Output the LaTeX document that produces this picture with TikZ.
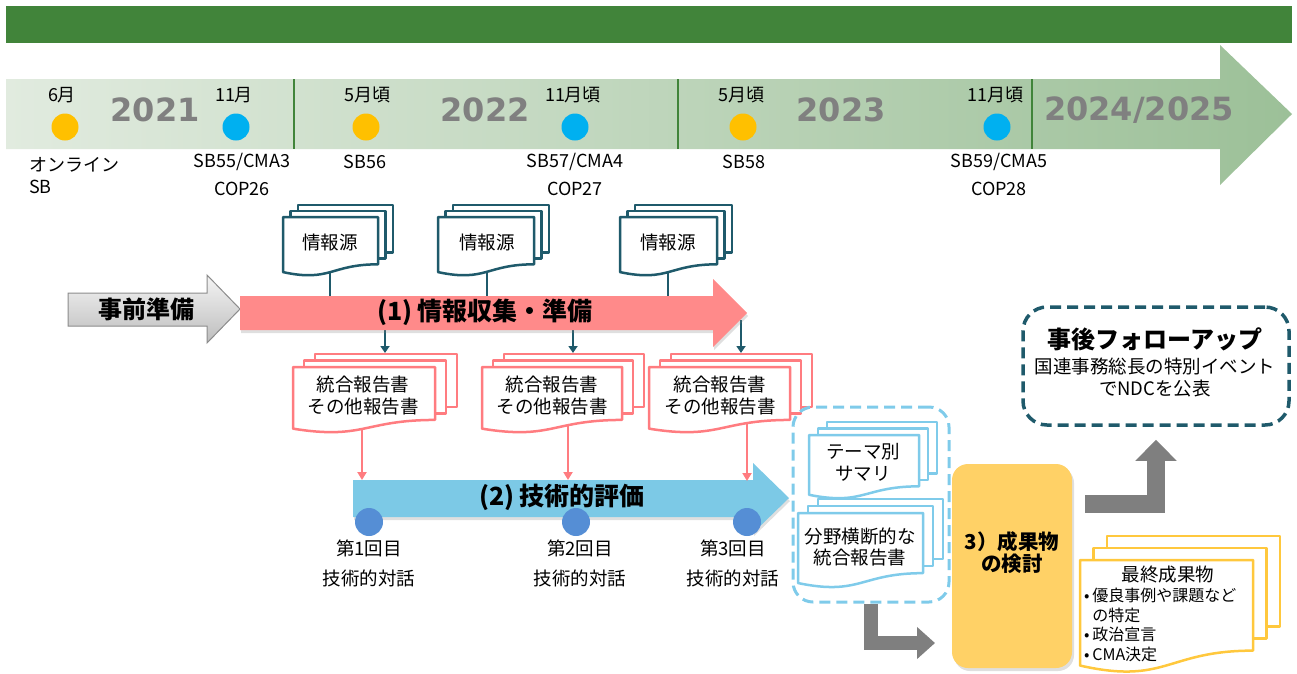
\documentclass[tikz,border=0pt]{standalone}
\usepackage{fontspec}
\setmainfont{Noto Sans CJK JP}
\newfontfamily\yearfont{DejaVu Sans}
\usetikzlibrary{arrows.meta,shadows}
\definecolor{barGreen}{HTML}{41843A}
\definecolor{tlLeft}{HTML}{E1EBDF}
\definecolor{tlRight}{HTML}{9CC098}
\definecolor{yearGray}{HTML}{808080}
\definecolor{dotYellow}{HTML}{FFC000}
\definecolor{dotBlue}{HTML}{00B0F0}
\definecolor{tealD}{HTML}{1F5A6B}
\definecolor{pinkArrow}{HTML}{FF8A8A}
\definecolor{pinkDoc}{HTML}{FF7C80}
\definecolor{skyArrow}{HTML}{7CC9E6}
\definecolor{skyDoc}{HTML}{7FCBEA}
\definecolor{dotTech}{HTML}{558ED5}
\definecolor{orangeBox}{HTML}{FFD166}
\definecolor{arrGray}{HTML}{7F7F7F}
\definecolor{yelDoc}{HTML}{FFC83D}
\definecolor{prepTop}{HTML}{F4F4F4}
\definecolor{prepBot}{HTML}{BDBDBD}
\definecolor{prepLine}{HTML}{8C8C8C}
\newcommand\setfs[2]{\fontsize{#1}{#2}\selectfont}
% multi-document stack: x, y, w, h, dx, dy, style
\newcommand\mdoc[7]{%
  \pgfmathsetmacro\mdR{#1+#3}%
  \pgfmathsetmacro\mdB{#2+0.802*#4}%
  \pgfmathsetmacro\mdL{#2+0.934*#4}%
  \pgfmathsetmacro\mdC{#2+1.107*#4}%
  \pgfmathsetmacro\mdM{#1+0.5*#3}%
  \pgfmathsetmacro\mdXa{#1+#5}\pgfmathsetmacro\mdXb{#1+2*#5}%
  \pgfmathsetmacro\mdRa{\mdR+#5}\pgfmathsetmacro\mdRb{\mdR+2*#5}%
  \pgfmathsetmacro\mdYa{#2-#6}\pgfmathsetmacro\mdYb{#2-2*#6}%
  \pgfmathsetmacro\mdBa{\mdB-#6}\pgfmathsetmacro\mdBb{\mdB-2*#6}%
  \path[#7] (\mdXb,\mdYb) rectangle (\mdRb,\mdBb);
  \path[#7] (\mdXa,\mdYa) rectangle (\mdRa,\mdBa);
  \path[#7] (#1,#2) -- (\mdR,#2) -- (\mdR,\mdB) .. controls (\mdM,\mdB) and (\mdM,\mdC) .. (#1,\mdL) -- cycle;
}
\begin{document}
\begin{tikzpicture}[x=1pt,y=-1pt,
  tl/.style={font=\setfs{18}{28},inner sep=0pt,align=center},
  doctext/.style={font=\setfs{18.5}{22},inner sep=0pt,align=center},
  titletext/.style={font=\bfseries\setfs{25}{27},inner sep=0pt},
  yeartext/.style={font=\yearfont\bfseries\setfs{32}{36},text=yearGray,inner sep=0pt},
  ydot/.style={circle,fill=dotYellow,minimum size=27pt,inner sep=0pt},
  bdot/.style={circle,fill=dotBlue,minimum size=27pt,inner sep=0pt},
  tdot/.style={circle,fill=dotTech,minimum size=28pt,inner sep=0pt},
  tealdoc/.style={draw=tealD,line width=2.5pt,fill=white,line join=round},
  pinkdoc/.style={draw=pinkDoc,line width=2.5pt,fill=white,line join=round},
  skydoc/.style={draw=skyDoc,line width=2.5pt,fill=white,line join=round},
  yeldoc/.style={draw=yelDoc,line width=2.5pt,fill=white,line join=round},
  tealline/.style={draw=tealD,line width=2pt},
  tealarrow/.style={draw=tealD,line width=2pt,-{Triangle[width=9pt,length=7pt]}},
  pinkconn/.style={draw=pinkDoc,line width=2pt,-{Triangle[width=9pt,length=8pt]}},
  softshadow/.style={drop shadow={opacity=0.25,shadow xshift=1pt,shadow yshift=-3pt}},
  grayarrowA/.style={draw=arrGray,line width=14pt,-{Triangle[width={31pt 0 0},length={18pt 0 0}]}},
  grayarrowB/.style={draw=arrGray,line width=18pt,-{Triangle[width={40pt 0 0},length={21pt 0 0}]}},
]
\useasboundingbox (0,0) rectangle (1297,673);
% ---- header bar
\fill[barGreen] (6,6) rectangle (1292,43);
% ---- timeline arrow
\shade[left color=tlLeft,right color=tlRight] (6,79) -- (1220,79) -- (1220,45) -- (1292,114) -- (1220,185) -- (1220,149) -- (6,149) -- cycle;
\draw[barGreen,line width=1.5pt] (294,79) -- (294,149);
\draw[barGreen,line width=1.5pt] (678,79) -- (678,149);
\draw[barGreen,line width=1.5pt] (1032,79) -- (1032,149);
% years
\node[yeartext] (y1) at (155,110) {2021};
\node[yeartext] (y2) at (485,110) {2022};
\node[yeartext] (y3) at (841,110) {2023};
\node[yeartext] (y4) at (1139,110) {2024/2025};
% months, dots, events
\node[tl] (m1) at (62,95) {6月};
\node[ydot] (c1) at (65,127) {};
\node[tl,anchor=west,align=left,font=\setfs{18}{22}] (e1) at (29,176) {オンライン\\SB};
\node[tl] (m2) at (234,95) {11月};
\node[bdot] (c2) at (236,127) {};
\node[tl] (e2) at (242,174) {SB55/CMA3\\COP26};
\node[tl] (m3) at (367,95) {5月頃};
\node[ydot] (c3) at (366,127) {};
\node[tl] (e3) at (365,162) {SB56};
\node[tl] (m4) at (573,95) {11月頃};
\node[bdot] (c4) at (575,127) {};
\node[tl] (e4) at (575,174) {SB57/CMA4\\COP27};
\node[tl] (m5) at (741,95) {5月頃};
\node[ydot] (c5) at (743,127) {};
\node[tl] (e5) at (744,162) {SB58};
\node[tl] (m6) at (995,95) {11月頃};
\node[bdot] (c6) at (997,127) {};
\node[tl] (e6) at (999,174) {SB59/CMA5\\COP28};
% ---- information sources
\coordinate (s1b) at (330,265); \coordinate (p1a) at (330,300);
\coordinate (s2b) at (487,265); \coordinate (p1b) at (487,300);
\coordinate (s3b) at (668,265); \coordinate (p1c) at (668,300);
\draw[tealline] (s1b) -- (p1a);
\draw[tealline] (s2b) -- (p1b);
\draw[tealline] (s3b) -- (p1c);
\mdoc{283}{217}{95}{59}{7.5}{6}{tealdoc}
\mdoc{438}{217}{96}{59}{7.5}{6}{tealdoc}
\mdoc{620}{217}{97}{59}{7.5}{6}{tealdoc}
\node[doctext] (src1) at (330,242) {情報源};
\node[doctext] (src2) at (487,242) {情報源};
\node[doctext] (src3) at (668,242) {情報源};
% ---- technical assessment arrow (2)
\path[fill=skyArrow,softshadow] (353,480) -- (753,480) -- (753,463) -- (789,498) -- (753,533) -- (753,517) -- (353,517) -- cycle;
\node[titletext] (tech) at (562,497) {(2) 技術的評価};
\coordinate (r1b) at (362,415); \coordinate (t1) at (362,480);
\coordinate (r2b) at (568,415); \coordinate (t2) at (568,480);
\coordinate (r3b) at (747,415); \coordinate (t3) at (747,481);
\draw[pinkconn] (r1b) -- (t1);
\draw[pinkconn] (r2b) -- (t2);
\draw[pinkconn] (r3b) -- (t3);
\node[tdot] (d1) at (369,522) {};
\node[tdot] (d2) at (576,522) {};
\node[tdot] (d3) at (747,522) {};
\node[doctext,font=\setfs{18.5}{30}] (td1) at (369,563) {第1回目\\技術的対話};
\node[doctext,font=\setfs{18.5}{30}] (td2) at (580,563) {第2回目\\技術的対話};
\node[doctext,font=\setfs{18.5}{30}] (td3) at (733,563) {第3回目\\技術的対話};
% ---- reports
\mdoc{293}{367}{142}{66}{11}{6.5}{pinkdoc}
\mdoc{482}{367}{140}{66}{11}{6.5}{pinkdoc}
\mdoc{649}{367}{141}{66}{11}{6.5}{pinkdoc}
\node[doctext] (rep1) at (363,396) {統合報告書\\その他報告書};
\node[doctext] (rep2) at (552,396) {統合報告書\\その他報告書};
\node[doctext] (rep3) at (720,396) {統合報告書\\その他報告書};
\coordinate (q1) at (385,325); \coordinate (q1e) at (385,353);
\coordinate (q2) at (573,325); \coordinate (q2e) at (573,353);
\coordinate (q3) at (741,320); \coordinate (q3e) at (741,353);
\draw[tealarrow] (q1) -- (q1e);
\draw[tealarrow] (q2) -- (q2e);
\draw[tealarrow] (q3) -- (q3e);
% ---- preparation arrows
\shadedraw[top color=prepTop,bottom color=prepBot,draw=prepLine,line width=1pt] (68,293) -- (207,293) -- (207,275) -- (240,309) -- (207,343) -- (207,326) -- (68,326) -- cycle;
\node[titletext,font=\bfseries\setfs{24}{26}] (prep) at (146,309) {事前準備};
\path[fill=pinkArrow,softshadow] (240,296) -- (713,296) -- (713,279) -- (747,313) -- (713,347) -- (713,330) -- (240,330) -- cycle;
\node[titletext] (collect) at (485,312) {(1) 情報収集・準備};
% ---- summaries box
\node[draw=skyDoc,line width=3pt,dash pattern=on 11pt off 6pt,rounded corners=20pt,minimum width=156pt,minimum height=195pt] (bluebox) at (871,504.5) {};
\mdoc{809}{435}{110}{64}{9}{6.5}{skydoc}
\mdoc{798}{513}{125}{75}{10}{7}{skydoc}
\node[doctext] (theme) at (863,462) {テーマ別\\サマリ};
\node[doctext,font=\setfs{18.5}{21}] (cross) at (860,547.5) {分野横断的な\\統合報告書};
% ---- outcome box
\node[fill=orangeBox,rounded corners=16pt,minimum width=120pt,minimum height=204pt,drop shadow={opacity=0.25,shadow xshift=2pt,shadow yshift=-3pt}] (orange) at (1012,566) {};
\node[titletext,font=\bfseries\setfs{20.5}{22},align=center] (orangetext) at (1012,553) {3）成果物\\の検討};
\coordinate (g1e) at (935,643);
\draw[grayarrowA] (bluebox.south) |- (g1e);
% ---- follow-up
\node[draw=tealD,line width=3.5pt,dash pattern=on 11pt off 6pt,rounded corners=24pt,minimum width=266pt,minimum height=118pt] (followup) at (1156,366) {};
\node[titletext,font=\bfseries\setfs{24}{26}] (fu1) at (1155,339) {事後フォローアップ};
\node[doctext] (fu2) at (1155,377) {国連事務総長の特別イベント\\でNDCを公表};
\coordinate (g2s) at (1085,504);
\draw[grayarrowB,shorten >=13pt] (g2s) -| (followup.south);
% ---- final outputs
\mdoc{1080}{560}{173}{113}{13.5}{12}{yeldoc}
\node[doctext] (ftitle) at (1168,575) {最終成果物};
\node[inner sep=0pt,anchor=west,align=left,font=\setfs{16}{19.4}] (flist) at (1084,625) {•\,優良事例や課題など\\\hphantom{•\,}の特定\\•\,政治宣言\\•\,CMA決定};
\end{tikzpicture}
\end{document}
